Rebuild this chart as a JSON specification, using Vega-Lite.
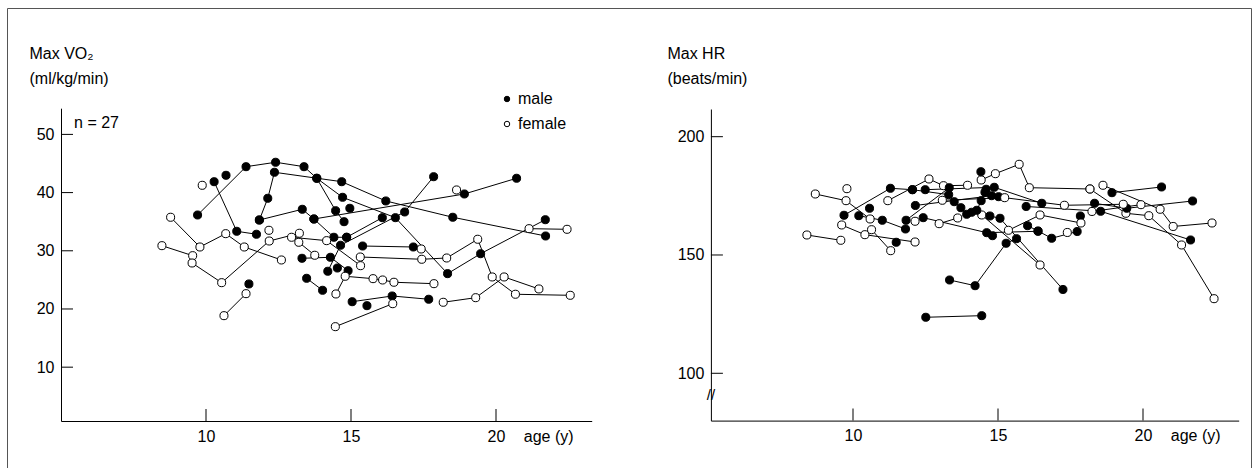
{
  "$schema": "https://vega.github.io/schema/vega-lite/v6.json",
  "width": 1244,
  "height": 462,
  "autosize": {"type": "none"},
  "padding": {"left": 7, "top": 8, "right": 8, "bottom": 0},
  "background": "white",
  "config": {
    "view": {"stroke": "#555", "strokeWidth": 1},
    "font": "Liberation Sans",
    "axis": {
      "grid": false, "domainColor": "black", "labelColor": "black", "titleColor": "black",
      "labelFont": "Liberation Sans", "labelFontSize": 16, "titleFont": "Liberation Sans", "titleFontSize": 16,
      "titleFontWeight": "normal", "ticks": false, "labelPadding": 7, "domainWidth": 1,
      "labelOverlap": false, "labelFlush": false
    }
  },
  "datasets": {
    "vo2": [
      {"id": "A", "sex": "male", "age": 9.71, "vo2": 36.15}, {"id": "A", "sex": "male", "age": 11.38, "vo2": 44.45}, {"id": "A", "sex": "male", "age": 12.40, "vo2": 45.21}, {"id": "A", "sex": "male", "age": 13.38, "vo2": 44.45}, {"id": "A", "sex": "male", "age": 13.82, "vo2": 42.46}, {"id": "A", "sex": "male", "age": 14.47, "vo2": 36.89}, {"id": "A", "sex": "male", "age": 14.76, "vo2": 35.0},
      {"id": "B", "sex": "male", "age": 11.84, "vo2": 35.29}, {"id": "B", "sex": "male", "age": 12.13, "vo2": 39.02}, {"id": "B", "sex": "male", "age": 12.36, "vo2": 43.49}, {"id": "B", "sex": "male", "age": 14.68, "vo2": 41.87}, {"id": "B", "sex": "male", "age": 16.20, "vo2": 38.56}, {"id": "B", "sex": "male", "age": 18.51, "vo2": 35.76}, {"id": "B", "sex": "male", "age": 21.71, "vo2": 32.54},
      {"id": "C2", "sex": "male", "age": 11.84, "vo2": 35.29}, {"id": "C2", "sex": "male", "age": 13.32, "vo2": 37.13}, {"id": "C2", "sex": "male", "age": 13.72, "vo2": 35.46}, {"id": "C2", "sex": "male", "age": 18.91, "vo2": 39.76}, {"id": "C2", "sex": "male", "age": 20.71, "vo2": 42.46},
      {"id": "Cx", "sex": "male", "age": 13.72, "vo2": 35.46}, {"id": "Cx", "sex": "male", "age": 14.41, "vo2": 32.32}, {"id": "Cx", "sex": "male", "age": 14.85, "vo2": 32.32},
      {"id": "D", "sex": "male", "age": 10.28, "vo2": 41.87}, {"id": "D", "sex": "male", "age": 11.06, "vo2": 33.35}, {"id": "D", "sex": "male", "age": 11.74, "vo2": 32.84},
      {"id": "E", "sex": "male", "age": 10.69, "vo2": 42.97},
      {"id": "G", "sex": "male", "age": 13.82, "vo2": 42.46}, {"id": "G", "sex": "male", "age": 14.71, "vo2": 39.19}, {"id": "G", "sex": "male", "age": 16.53, "vo2": 35.69}, {"id": "G", "sex": "male", "age": 18.33, "vo2": 26.07}, {"id": "G", "sex": "male", "age": 19.47, "vo2": 29.50}, {"id": "G", "sex": "male", "age": 21.70, "vo2": 35.34},
      {"id": "H", "sex": "male", "age": 14.20, "vo2": 26.48}, {"id": "H", "sex": "male", "age": 14.64, "vo2": 30.95}, {"id": "H", "sex": "male", "age": 16.85, "vo2": 36.67}, {"id": "H", "sex": "male", "age": 17.85, "vo2": 42.73},
      {"id": "I", "sex": "male", "age": 14.85, "vo2": 32.32}, {"id": "I", "sex": "male", "age": 16.08, "vo2": 35.69},
      {"id": "J", "sex": "male", "age": 14.96, "vo2": 37.30},
      {"id": "K", "sex": "male", "age": 15.40, "vo2": 30.82}, {"id": "K", "sex": "male", "age": 17.15, "vo2": 30.65},
      {"id": "L", "sex": "male", "age": 13.31, "vo2": 28.71}, {"id": "L", "sex": "male", "age": 14.29, "vo2": 28.88}, {"id": "L", "sex": "male", "age": 14.90, "vo2": 26.58},
      {"id": "M", "sex": "male", "age": 14.53, "vo2": 27.04},
      {"id": "N", "sex": "male", "age": 13.47, "vo2": 25.27}, {"id": "N", "sex": "male", "age": 14.02, "vo2": 23.21},
      {"id": "O", "sex": "male", "age": 15.04, "vo2": 21.25}, {"id": "O", "sex": "male", "age": 16.42, "vo2": 22.23}, {"id": "O", "sex": "male", "age": 17.68, "vo2": 21.67},
      {"id": "P", "sex": "male", "age": 15.55, "vo2": 20.57},
      {"id": "Q", "sex": "male", "age": 11.48, "vo2": 24.30},
      {"id": "F1", "sex": "female", "age": 9.87, "vo2": 41.25},
      {"id": "F2", "sex": "female", "age": 8.78, "vo2": 35.76}, {"id": "F2", "sex": "female", "age": 9.79, "vo2": 30.65}, {"id": "F2", "sex": "female", "age": 10.68, "vo2": 32.94}, {"id": "F2", "sex": "female", "age": 11.32, "vo2": 30.65}, {"id": "F2", "sex": "female", "age": 12.60, "vo2": 28.42},
      {"id": "F3a", "sex": "female", "age": 8.48, "vo2": 30.88}, {"id": "F3a", "sex": "female", "age": 9.54, "vo2": 29.16},
      {"id": "F3b", "sex": "female", "age": 9.52, "vo2": 27.90}, {"id": "F3b", "sex": "female", "age": 10.54, "vo2": 24.52}, {"id": "F3b", "sex": "female", "age": 12.18, "vo2": 31.68}, {"id": "F3b", "sex": "female", "age": 13.22, "vo2": 33.01},
      {"id": "F4", "sex": "female", "age": 12.17, "vo2": 33.52},
      {"id": "F5", "sex": "female", "age": 10.62, "vo2": 18.85}, {"id": "F5", "sex": "female", "age": 11.38, "vo2": 22.63},
      {"id": "F6", "sex": "female", "age": 12.95, "vo2": 32.32}, {"id": "F6", "sex": "female", "age": 14.16, "vo2": 31.74}, {"id": "F6", "sex": "female", "age": 15.33, "vo2": 27.44},
      {"id": "F7", "sex": "female", "age": 13.20, "vo2": 31.46}, {"id": "F7", "sex": "female", "age": 13.75, "vo2": 29.23},
      {"id": "F8", "sex": "female", "age": 15.32, "vo2": 28.93}, {"id": "F8", "sex": "female", "age": 17.44, "vo2": 28.54}, {"id": "F8", "sex": "female", "age": 18.30, "vo2": 28.76}, {"id": "F8", "sex": "female", "age": 19.37, "vo2": 31.98}, {"id": "F8", "sex": "female", "age": 19.87, "vo2": 25.50}, {"id": "F8", "sex": "female", "age": 20.67, "vo2": 22.53}, {"id": "F8", "sex": "female", "age": 22.56, "vo2": 22.35},
      {"id": "F9", "sex": "female", "age": 14.48, "vo2": 22.58}, {"id": "F9", "sex": "female", "age": 14.80, "vo2": 25.62}, {"id": "F9", "sex": "female", "age": 15.76, "vo2": 25.21}, {"id": "F9", "sex": "female", "age": 16.09, "vo2": 24.98}, {"id": "F9", "sex": "female", "age": 16.48, "vo2": 24.59}, {"id": "F9", "sex": "female", "age": 17.86, "vo2": 24.35},
      {"id": "F10", "sex": "female", "age": 18.18, "vo2": 21.15}, {"id": "F10", "sex": "female", "age": 19.30, "vo2": 21.94}, {"id": "F10", "sex": "female", "age": 20.28, "vo2": 25.50}, {"id": "F10", "sex": "female", "age": 21.48, "vo2": 23.44},
      {"id": "F11", "sex": "female", "age": 14.46, "vo2": 16.96}, {"id": "F11", "sex": "female", "age": 16.44, "vo2": 20.91},
      {"id": "F12", "sex": "female", "age": 17.42, "vo2": 30.31},
      {"id": "F13", "sex": "female", "age": 18.64, "vo2": 40.45},
      {"id": "F14", "sex": "female", "age": 21.14, "vo2": 33.80}, {"id": "F14", "sex": "female", "age": 22.45, "vo2": 33.69}
    ],
    "hr": [
      {"id": "R1", "sex": "female", "age": 8.70, "hr": 175.78}, {"id": "R1", "sex": "female", "age": 9.76, "hr": 172.95}, {"id": "R1", "sex": "female", "age": 10.59, "hr": 165.22},
      {"id": "R2", "sex": "female", "age": 8.41, "hr": 158.45}, {"id": "R2", "sex": "female", "age": 9.58, "hr": 156.21},
      {"id": "R3", "sex": "female", "age": 9.61, "hr": 162.68}, {"id": "R3", "sex": "female", "age": 10.41, "hr": 158.58}, {"id": "R3", "sex": "female", "age": 12.14, "hr": 155.49},
      {"id": "R4", "sex": "female", "age": 10.64, "hr": 160.69}, {"id": "R4", "sex": "female", "age": 11.30, "hr": 151.82},
      {"id": "R5", "sex": "female", "age": 9.79, "hr": 178.02},
      {"id": "R6", "sex": "male", "age": 9.69, "hr": 166.78}, {"id": "R6", "sex": "male", "age": 11.29, "hr": 178.19}, {"id": "R6", "sex": "male", "age": 12.05, "hr": 177.60},
      {"id": "R7", "sex": "male", "age": 10.20, "hr": 166.61}, {"id": "R7", "sex": "male", "age": 11.01, "hr": 164.67}, {"id": "R7", "sex": "male", "age": 11.81, "hr": 160.99},
      {"id": "R8", "sex": "male", "age": 10.57, "hr": 169.74},
      {"id": "R9", "sex": "female", "age": 11.20, "hr": 172.95}, {"id": "R9", "sex": "female", "age": 12.62, "hr": 182.12}, {"id": "R9", "sex": "female", "age": 13.12, "hr": 179.29}, {"id": "R9", "sex": "female", "age": 13.95, "hr": 179.46},
      {"id": "R10", "sex": "male", "age": 11.83, "hr": 164.67}, {"id": "R10", "sex": "male", "age": 13.32, "hr": 178.44},
      {"id": "R13", "sex": "male", "age": 11.49, "hr": 155.37},
      {"id": "R14", "sex": "male", "age": 12.42, "hr": 165.77}, {"id": "R14", "sex": "male", "age": 14.61, "hr": 159.43}, {"id": "R14", "sex": "male", "age": 16.38, "hr": 160.02},
      {"id": "R15", "sex": "female", "age": 12.97, "hr": 163.23}, {"id": "R15", "sex": "female", "age": 13.61, "hr": 165.64},
      {"id": "R16", "sex": "male", "age": 13.33, "hr": 139.43}, {"id": "R16", "sex": "male", "age": 14.21, "hr": 137.02}, {"id": "R16", "sex": "male", "age": 15.28, "hr": 154.95}, {"id": "R16", "sex": "male", "age": 15.64, "hr": 156.89},
      {"id": "R17", "sex": "male", "age": 12.51, "hr": 123.67}, {"id": "R17", "sex": "male", "age": 14.44, "hr": 124.35},
      {"id": "R18", "sex": "female", "age": 14.42, "hr": 181.70}, {"id": "R18", "sex": "female", "age": 14.91, "hr": 184.36}, {"id": "R18", "sex": "female", "age": 15.73, "hr": 188.33}, {"id": "R18", "sex": "female", "age": 16.08, "hr": 178.44}, {"id": "R18", "sex": "female", "age": 18.17, "hr": 177.89},
      {"id": "R41", "sex": "female", "age": 18.17, "hr": 177.89}, {"id": "R41", "sex": "female", "age": 19.41, "hr": 167.62}, {"id": "R41", "sex": "female", "age": 20.20, "hr": 166.61}, {"id": "R41", "sex": "female", "age": 21.33, "hr": 154.23}, {"id": "R41", "sex": "female", "age": 22.45, "hr": 131.53},
      {"id": "R19", "sex": "male", "age": 14.41, "hr": 185.21},
      {"id": "R20", "sex": "male", "age": 15.97, "hr": 170.50}, {"id": "R20", "sex": "male", "age": 18.54, "hr": 168.47}, {"id": "R20", "sex": "male", "age": 21.64, "hr": 156.34},
      {"id": "R21", "sex": "male", "age": 18.93, "hr": 176.33}, {"id": "R21", "sex": "male", "age": 20.64, "hr": 178.74},
      {"id": "R22", "sex": "female", "age": 18.62, "hr": 179.46}, {"id": "R22", "sex": "female", "age": 20.59, "hr": 169.32}, {"id": "R22", "sex": "female", "age": 21.04, "hr": 162.05}, {"id": "R22", "sex": "female", "age": 22.38, "hr": 163.52},
      {"id": "R43", "sex": "female", "age": 18.24, "hr": 168.39}, {"id": "R43", "sex": "female", "age": 19.93, "hr": 171.26},
      {"id": "R26", "sex": "male", "age": 14.72, "hr": 166.48}, {"id": "R26", "sex": "male", "age": 15.07, "hr": 165.51}, {"id": "R26", "sex": "male", "age": 17.24, "hr": 135.42},
      {"id": "R27", "sex": "female", "age": 14.44, "hr": 166.91}, {"id": "R27", "sex": "female", "age": 16.45, "hr": 145.77},
      {"id": "R28", "sex": "male", "age": 18.33, "hr": 171.85}, {"id": "R28", "sex": "male", "age": 19.44, "hr": 169.74}, {"id": "R28", "sex": "male", "age": 21.71, "hr": 172.82},
      {"id": "R31", "sex": "male", "age": 12.05, "hr": 177.60}, {"id": "R31", "sex": "male", "age": 13.30, "hr": 175.49}, {"id": "R31", "sex": "male", "age": 13.49, "hr": 172.53}, {"id": "R31", "sex": "male", "age": 13.72, "hr": 169.99}, {"id": "R31", "sex": "male", "age": 13.92, "hr": 167.20},
      {"id": "R33", "sex": "male", "age": 14.09, "hr": 168.05}, {"id": "R33", "sex": "male", "age": 14.27, "hr": 168.89}, {"id": "R33", "sex": "male", "age": 14.42, "hr": 172.95}, {"id": "R33", "sex": "male", "age": 14.55, "hr": 176.50}, {"id": "R33", "sex": "male", "age": 14.59, "hr": 177.77},
      {"id": "R34", "sex": "male", "age": 12.49, "hr": 177.60}, {"id": "R34", "sex": "male", "age": 14.87, "hr": 178.61}, {"id": "R34", "sex": "male", "age": 16.51, "hr": 171.85},
      {"id": "R35", "sex": "male", "age": 12.15, "hr": 170.92}, {"id": "R35", "sex": "male", "age": 14.78, "hr": 175.06}, {"id": "R35", "sex": "male", "age": 15.02, "hr": 174.64},
      {"id": "R37", "sex": "male", "age": 16.02, "hr": 162.38}, {"id": "R37", "sex": "male", "age": 16.38, "hr": 160.14}, {"id": "R37", "sex": "male", "age": 16.85, "hr": 157.06}, {"id": "R37", "sex": "male", "age": 17.73, "hr": 159.93},
      {"id": "R39", "sex": "male", "age": 14.81, "hr": 158.16},
      {"id": "R36", "sex": "male", "age": 17.84, "hr": 166.48},
      {"id": "R38", "sex": "female", "age": 15.36, "hr": 160.44}, {"id": "R38", "sex": "female", "age": 16.45, "hr": 166.91}, {"id": "R38", "sex": "female", "age": 17.86, "hr": 163.52},
      {"id": "R40", "sex": "female", "age": 13.08, "hr": 173.12}, {"id": "R40", "sex": "female", "age": 15.23, "hr": 174.22}, {"id": "R40", "sex": "female", "age": 17.29, "hr": 171.01}, {"id": "R40", "sex": "female", "age": 19.32, "hr": 171.43},
      {"id": "R42", "sex": "female", "age": 17.39, "hr": 159.51},
      {"id": "R44", "sex": "female", "age": 12.14, "hr": 164.25}
    ]
  },
  "layer": [
    {
      "data": {"name": "vo2"},
      "encoding": {
        "x": {
          "field": "age", "type": "quantitative",
          "scale": {"domain": [5, 23.3], "range": [54, 584.7], "nice": false, "zero": false},
          "axis": {
            "orient": "bottom", "offset": -49, "values": [10, 15, 20, 21.8], "title": null,
            "labelExpr": "datum.value > 21 ? 'age (y)' : datum.label"
          }
        },
        "y": {
          "field": "vo2", "type": "quantitative",
          "scale": {"domain": [0.75, 54.5], "range": [413, 100.2], "nice": false, "zero": false},
          "axis": {
            "orient": "left", "offset": -54, "values": [10, 20, 30, 40, 50],
            "title": ["Max VO₂", "(ml/kg/min)"], "titleAngle": 0, "titleAlign": "left",
            "titleBaseline": "alphabetic", "titleX": -32, "titleY": 50, "titleLineHeight": 25
          }
        }
      },
      "layer": [
        {
          "data": {"values": [{"age": 10, "vo2": 0.75}, {"age": 15, "vo2": 0.75}, {"age": 20, "vo2": 0.75}]},
          "mark": {"type": "tick", "orient": "vertical", "size": 12, "thickness": 1, "color": "black", "opacity": 1, "yOffset": -6}
        },
        {
          "data": {"values": [{"age": 5, "vo2": 10}, {"age": 5, "vo2": 20}, {"age": 5, "vo2": 30}, {"age": 5, "vo2": 40}, {"age": 5, "vo2": 50}]},
          "mark": {"type": "tick", "orient": "horizontal", "size": 12, "thickness": 1, "color": "black", "opacity": 1, "xOffset": 6}
        },
        {"mark": {"type": "line", "color": "black", "strokeWidth": 1}, "encoding": {"detail": {"field": "id"}}},
        {
          "mark": {"type": "point", "shape": "circle", "filled": true, "size": 65, "stroke": "black", "strokeWidth": 1, "opacity": 1, "fillOpacity": 1, "strokeOpacity": 1},
          "encoding": {
            "fill": {
              "field": "sex", "type": "nominal",
              "scale": {"domain": ["male", "female"], "range": ["black", "white"]},
              "legend": {"orient": "none", "legendX": 492, "legendY": 83, "title": null, "symbolType": "circle", "symbolSize": 30, "symbolStrokeColor": "black", "symbolStrokeWidth": 1, "labelFontSize": 16, "labelFont": "Liberation Sans", "labelColor": "black", "labelOffset": 3, "rowPadding": 9, "padding": 0}
            }
          }
        },
        {
          "data": {"values": [{"age": 5.45, "vo2": 51.96, "label": "n = 27"}]},
          "mark": {"type": "text", "align": "left", "baseline": "middle", "fontSize": 16, "font": "Liberation Sans", "color": "black"},
          "encoding": {"text": {"field": "label"}}
        }
      ]
    },
    {
      "data": {"name": "hr"},
      "encoding": {
        "x": {
          "field": "age", "type": "quantitative",
          "scale": {"domain": [5.1, 23.3], "range": [703.9, 1231.7], "nice": false, "zero": false},
          "axis": {
            "orient": "bottom", "offset": -49.4, "values": [10, 15, 20, 21.8], "title": null,
            "labelExpr": "datum.value > 21 ? 'age (y)' : datum.label"
          }
        },
        "y": {
          "field": "hr", "type": "quantitative",
          "scale": {"domain": [80, 211.7], "range": [412.6, 101], "nice": false, "zero": false},
          "axis": {
            "orient": "left", "offset": -703.9, "values": [100, 150, 200],
            "title": ["Max HR", "(beats/min)"], "titleAngle": 0, "titleAlign": "left",
            "titleBaseline": "alphabetic", "titleX": -44, "titleY": 50, "titleLineHeight": 25
          }
        }
      },
      "layer": [
        {
          "data": {"values": [{"age": 10, "hr": 80}, {"age": 15, "hr": 80}, {"age": 20, "hr": 80}]},
          "mark": {"type": "tick", "orient": "vertical", "size": 12, "thickness": 1, "color": "black", "opacity": 1, "yOffset": -6}
        },
        {
          "data": {"values": [{"age": 5.1, "hr": 100}, {"age": 5.1, "hr": 150}, {"age": 5.1, "hr": 200}]},
          "mark": {"type": "tick", "orient": "horizontal", "size": 12, "thickness": 1, "color": "black", "opacity": 1, "xOffset": 6}
        },
        {"mark": {"type": "line", "color": "black", "strokeWidth": 1}, "encoding": {"detail": {"field": "id"}}},
        {
          "mark": {"type": "point", "shape": "circle", "filled": true, "size": 65, "stroke": "black", "strokeWidth": 1, "opacity": 1, "fillOpacity": 1, "strokeOpacity": 1},
          "encoding": {
            "fill": {
              "field": "sex", "type": "nominal",
              "scale": {"domain": ["male", "female"], "range": ["black", "white"]},
              "legend": {"orient": "none", "legendX": 492, "legendY": 83, "title": null, "symbolType": "circle", "symbolSize": 30, "symbolStrokeColor": "black", "symbolStrokeWidth": 1, "labelFontSize": 16, "labelFont": "Liberation Sans", "labelColor": "black", "labelOffset": 3, "rowPadding": 9, "padding": 0}
            }
          }
        },
        {
          "data": {"values": [{"age": 5.1, "hr": 90.8, "label": "//"}]},
          "mark": {"type": "text", "align": "center", "baseline": "middle", "fontSize": 15, "font": "Liberation Sans", "color": "black"},
          "encoding": {"text": {"field": "label"}}
        }
      ]
    }
  ],
  "resolve": {"scale": {"x": "independent", "y": "independent"}}
}
